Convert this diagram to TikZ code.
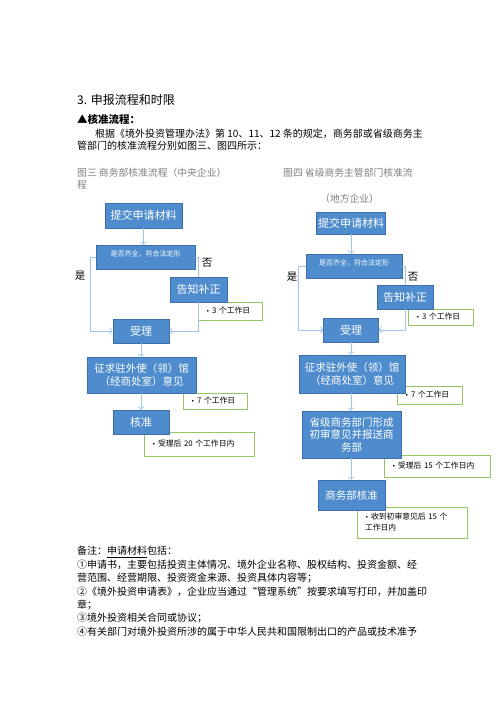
\documentclass[tikz,border=0pt]{standalone}
\usepackage{fontspec}
\setmainfont{Noto Sans CJK SC}
\newfontfamily\bulletfont{DejaVu Sans}
\usetikzlibrary{arrows.meta,calc}
\definecolor{bfill}{RGB}{79,140,206}
\definecolor{bdraw}{RGB}{62,110,170}
\definecolor{gline}{RGB}{146,200,100}
\definecolor{cline}{RGB}{157,195,230}
\definecolor{capgray}{RGB}{128,128,128}
\newcommand{\myfs}[1]{\fontsize{#1}{#1}\selectfont}
\newcommand{\gbul}{{\bulletfont\fontsize{6}{6}\selectfont •}\ }
\begin{document}
\begin{tikzpicture}[x=1pt,y=-1pt,
  txt/.style={anchor=base west, inner sep=0pt, font=\myfs{10}},
  captext/.style={anchor=base west, inner sep=0pt, font=\myfs{9.8}, text=capgray},
  bluebox/.style={draw=bdraw, fill=bfill, line width=0.6pt, text=white, inner sep=0pt, align=center},
  greenbox/.style={draw=gline, fill=white, line width=0.9pt, inner ysep=0pt, inner xsep=8pt, align=left, font=\myfs{7.8}},
  conn/.style={draw=cline, line width=0.7pt},
  arr/.style={conn, -{Straight Barb[length=2.5pt,width=6pt]}},
  yn/.style={inner sep=0pt, font=\myfs{10.5}}
]
\useasboundingbox (0,0) rectangle (500,707);
\fill[white] (0,0) rectangle (500,707);

% header text
\node[txt, font=\myfs{12}] (title) at (77,104) {3. 申报流程和时限};
\node[txt, font=\myfs{10.5}\bfseries] (tri) at (77,123) {▲核准流程：};
\node[txt] (p1) at (95,137) {根据《境外投资管理办法》第 10、11、12 条的规定，商务部或省级商务主};
\node[txt] (p2) at (77,149) {管部门的核准流程分别如图三、图四所示：};
\node[captext] (c3) at (77,176) {图三\ 商务部核准流程（中央企业）};
\node[captext] (c3b) at (77,188) {程};
\node[captext] (c4) at (283,176) {图四\ 省级商务主管部门核准流};
\node[captext] (c4b) at (320,202) {（地方企业）};

% ---------- left flowchart ----------
\node[greenbox, minimum height=18pt, text width=48pt] (G1) at (230,311) {\gbul 3 个工作日};
\node[greenbox, minimum height=16pt, text width=48pt] (G2) at (215,401) {\gbul 7 个工作日};
\node[greenbox, minimum height=24pt, text width=94pt] (G3) at (199,444) {\gbul 受理后 20 个工作日内};

\node[bluebox, minimum width=77pt, minimum height=25pt, font=\myfs{11}] (L1) at (143.5,215.5) {提交申请材料};
\node[bluebox, minimum width=99pt, minimum height=24pt, font=\myfs{7}] (L2) at (145.5,257) {是否齐全，符合法定形\\[-1pt].};
\node[bluebox, minimum width=57pt, minimum height=25pt, font=\myfs{11}] (L3) at (198.5,289.5) {告知补正};
\node[bluebox, minimum width=56pt, minimum height=24pt, font=\myfs{11}] (L4) at (141,331) {受理};
\node[bluebox, minimum width=109pt, minimum height=36pt, font=\fontsize{10.5}{12.5}\selectfont] (L5) at (141.5,375) {征求驻外使（领）馆\\（经商处室）意见};
\node[bluebox, minimum width=56pt, minimum height=24pt, font=\myfs{11}] (L6) at (141,422) {核准};

\draw[arr] (L1.south) -- (L1.south |- L2.north);
\draw[arr] (L2.west) -- (90,257) -- (90,331) -- (L4.west);
\draw[conn] (L2.east) -| (L3.north);
\draw[arr] (L3.south) |- (L4.east);
\draw[arr] (L4.south) -- (L4.south |- L5.north);
\draw[arr] (L5.south -| L6.north) -- (L6.north);
\node[yn] (yesL) at (80,276) {是};
\node[yn] (noL) at (207,263) {否};

% ---------- right flowchart ----------
\node[greenbox, minimum height=16pt, text width=49pt] (G4) at (440.5,317) {\gbul 3 个工作日};
\node[greenbox, minimum height=18pt, text width=49pt] (G5) at (429.5,395) {\gbul 7 个工作日};
\node[greenbox, minimum height=22pt, text width=90pt] (G6) at (437,466) {\gbul 受理后 15 个工作日内};
\node[greenbox, minimum height=31pt, text width=94pt, font=\fontsize{7.8}{11}\selectfont] (G7) at (412,522.5) {\gbul 收到初审意见后\ 15\ 个\\工作日内};

\node[bluebox, minimum width=69pt, minimum height=22pt, font=\myfs{11}] (R1) at (351,223) {提交申请材料};
\node[bluebox, minimum width=96pt, minimum height=24pt, font=\myfs{7}] (R2) at (354,266) {是否齐全，符合法定形\\[-1pt].};
\node[bluebox, minimum width=56pt, minimum height=24pt, font=\myfs{11}] (R3) at (405,297) {告知补正};
\node[bluebox, minimum width=55pt, minimum height=24pt, font=\myfs{11}] (R4) at (351,330) {受理};
\node[bluebox, minimum width=106pt, minimum height=38pt, font=\fontsize{10.5}{12.5}\selectfont] (R5) at (352,374) {征求驻外使（领）馆\\（经商处室）意见};
\node[bluebox, minimum width=99pt, minimum height=47pt, font=\fontsize{10.5}{12.5}\selectfont] (R6) at (351.5,434.5) {省级商务部门形成\\初审意见并报送商\\务部};
\node[bluebox, minimum width=67pt, minimum height=30pt, font=\myfs{10.5}] (R7) at (351.5,495) {商务部核准};

\draw[arr] (R1.south) -- (R1.south |- R2.north);
\draw[arr] (R2.west) -- (298,266) -- (298,330) -- (R4.west);
\draw[conn] (R2.east) -| (R3.north);
\draw[arr] (R3.south) |- (R4.east);
\draw[arr] (R4.south) -- (R4.south |- R5.north);
\draw[arr] (R5.south -| R4.south) -- (R4.south |- R6.north);
\draw[arr] (R6.south -| R4.south) -- (R4.south |- R7.north);
\node[yn] (yesR) at (292,277) {是};
\node[yn] (noR) at (413,277) {否};

% ---------- notes ----------
\node[txt] (n0) at (77,554.8) {备注：\underline{申请材料}包括：};
\node[txt] (n1) at (77,568.2) {①申请书，主要包括投资主体情况、境外企业名称、股权结构、投资金额、经};
\node[txt] (n2) at (77,581.6) {营范围、经营期限、投资资金来源、投资具体内容等；};
\node[txt] (n3) at (77,595) {②《境外投资申请表》，企业应当通过“管理系统”按要求填写打印，并加盖印};
\node[txt] (n4) at (77,608.4) {章；};
\node[txt] (n5) at (77,621.8) {③境外投资相关合同或协议；};
\node[txt] (n6) at (77,635.2) {④有关部门对境外投资所涉的属于中华人民共和国限制出口的产品或技术准予};
\end{tikzpicture}
\end{document}
